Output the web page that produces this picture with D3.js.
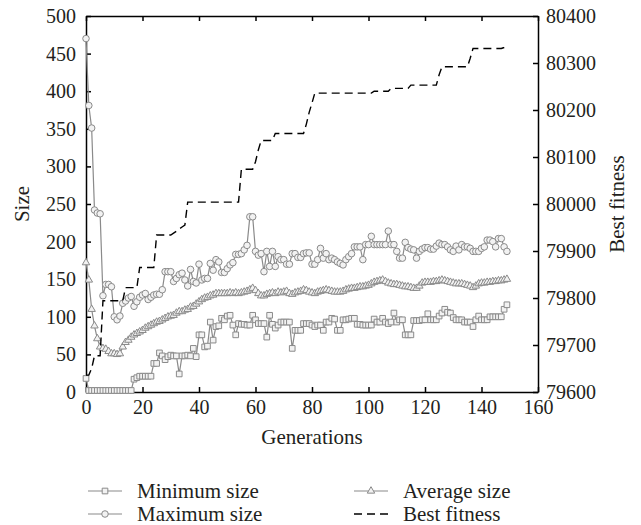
<!DOCTYPE html>
<html>
<head>
<meta charset="utf-8">
<script src="https://cdn.jsdelivr.net/npm/d3@7"></script>
<style>
	body { margin: 0; background: #fff; }
	svg { display: block; }
	.axis path, .axis line { stroke: #000; stroke-width: 1.5; }
</style>
</head>
<body>
<script>
// x ticks / axis ticks
const genTicks = [0, 20, 40, 60, 80, 100, 120, 140, 160];
const sizeTicks = [0, 50, 100, 150, 200, 250, 300, 350, 400, 450, 500];
const fitnessTicks = [79600, 79700, 79800, 79900, 80000, 80100, 80200, 80300, 80400];

// one value per generation, 0..149
const minSize = [
	18, 2, 2, 2, 2, 2, 2, 2, 2, 2,
	2, 2, 2, 2, 2, 2, 2, 17, 19, 21,
	21, 21, 21, 21, 38, 38, 52, 48, 43, 47,
	49, 48, 48, 24, 48, 48, 49, 48, 58, 47,
	76, 76, 60, 61, 93, 69, 87, 88, 98, 96,
	101, 102, 89, 76, 91, 90, 90, 89, 89, 102,
	96, 91, 91, 91, 73, 102, 90, 85, 89, 93,
	93, 93, 93, 58, 82, 82, 82, 91, 91, 91,
	89, 87, 89, 89, 82, 93, 93, 98, 97, 82,
	82, 96, 96, 97, 98, 98, 90, 90, 89, 89,
	89, 89, 97, 93, 93, 98, 93, 91, 93, 105,
	93, 96, 96, 76, 76, 76, 95, 95, 95, 96,
	96, 104, 96, 96, 96, 101, 105, 110, 106, 105,
	99, 96, 96, 96, 93, 93, 93, 87, 96, 101,
	96, 96, 96, 100, 100, 100, 100, 100, 110, 116
];
const maxSize = [
	470, 381, 351, 242, 238, 237, 128, 143, 143, 140,
	100, 96, 101, 118, 121, 125, 127, 114, 120, 126,
	129, 131, 123, 126, 129, 130, 130, 136, 160, 160,
	160, 147, 151, 156, 158, 149, 141, 163, 147, 145,
	170, 149, 151, 151, 171, 162, 176, 173, 159, 159,
	164, 169, 172, 183, 183, 184, 189, 195, 233, 233,
	187, 182, 184, 160, 187, 167, 187, 167, 180, 176,
	176, 170, 170, 184, 184, 179, 179, 184, 185, 185,
	170, 170, 176, 191, 178, 184, 176, 178, 176, 173,
	171, 169, 176, 180, 184, 193, 193, 193, 176, 196,
	196, 207, 196, 196, 196, 196, 196, 214, 196, 196,
	187, 178, 178, 199, 192, 190, 189, 178, 187, 190,
	192, 192, 190, 190, 194, 198, 196, 196, 193, 189,
	187, 194, 189, 196, 193, 193, 191, 187, 187, 187,
	191, 193, 202, 202, 200, 193, 204, 204, 193, 187
];
const avgSize = [
	172, 149, 110, 88, 71, 60, 58, 57, 54, 51,
	51, 50, 51, 60, 66, 69, 73, 76, 78, 80,
	82, 85, 87, 89, 91, 93, 94, 96, 98, 100,
	101, 102, 105, 107, 107, 109, 110, 113, 114, 117,
	120, 123, 125, 126, 128, 129, 131, 131, 131, 131,
	131, 132, 131, 132, 131, 132, 133, 134, 136, 138,
	135, 131, 128, 128, 130, 131, 132, 131, 133, 132,
	133, 134, 131, 130, 132, 133, 134, 136, 135, 133,
	132, 131, 133, 134, 135, 136, 135, 134, 133, 133,
	133, 134, 136, 137, 138, 138, 139, 140, 140, 141,
	142, 144, 146, 147, 148, 149, 147, 145, 144, 143,
	143, 142, 141, 140, 140, 139, 138, 138, 141, 145,
	146, 146, 146, 147, 147, 148, 149, 148, 147, 146,
	145, 144, 144, 144, 143, 142, 141, 139, 141, 144,
	145, 145, 146, 146, 147, 147, 148, 148, 149, 150
];
const bestFitness = [
	79636, 79636, 79650, 79677, 79677, 79677, 79794, 79794, 79794, 79794,
	79794, 79794, 79794, 79794, 79822, 79822, 79822, 79822, 79822, 79865,
	79865, 79865, 79865, 79865, 79865, 79934, 79934, 79934, 79934, 79934,
	79934, 79938, 79942, 79947, 79951, 79955, 80004, 80004, 80004, 80004,
	80004, 80004, 80004, 80004, 80004, 80004, 80004, 80004, 80004, 80004,
	80004, 80004, 80004, 80004, 80004, 80074, 80074, 80074, 80074, 80074,
	80090, 80115, 80135, 80135, 80135, 80135, 80135, 80150, 80150, 80150,
	80150, 80150, 80150, 80150, 80150, 80150, 80150, 80150, 80170, 80195,
	80215, 80236, 80236, 80236, 80236, 80236, 80236, 80236, 80236, 80236,
	80236, 80236, 80236, 80236, 80236, 80236, 80236, 80236, 80236, 80236,
	80236, 80236, 80240, 80240, 80240, 80240, 80240, 80240, 80246, 80246,
	80246, 80246, 80246, 80246, 80246, 80253, 80253, 80253, 80253, 80253,
	80253, 80253, 80253, 80253, 80253, 80275, 80292, 80292, 80292, 80292,
	80292, 80292, 80292, 80292, 80292, 80292, 80310, 80331, 80331, 80331,
	80331, 80331, 80331, 80331, 80331, 80331, 80331, 80331, 80333, 80336
];

const W = 641, H = 525;
const margin = { left: 86, right: 103, top: 16, bottom: 133 };
const grey = "#8a8a8a";
const fontFam = "'Liberation Serif', 'DejaVu Serif', serif";
const textCol = "#231f20";

const svg = d3.select("body").append("svg").attr("width", W).attr("height", H);

const x = d3.scaleLinear().domain([0, 160]).range([margin.left, W - margin.right]);
const y = d3.scaleLinear().domain([0, 500]).range([H - margin.bottom, margin.top]);
const yFit = d3.scaleLinear().domain([79600, 80400]).range([H - margin.bottom, margin.top]);

// axes, ticks pointing inward
const styleAxis = (g) => {
	g.attr("font-family", fontFam).attr("font-size", 20);
	g.selectAll("text").attr("fill", textCol);
};
svg.append("g").attr("class", "axis")
	.attr("transform", "translate(0," + (H - margin.bottom) + ")")
	.call(d3.axisBottom(x).tickValues(genTicks).tickSize(-5).tickSizeOuter(0).tickPadding(8))
	.call(styleAxis);
svg.append("g").attr("class", "axis")
	.attr("transform", "translate(0," + margin.top + ")")
	.call(d3.axisTop(x).tickValues(genTicks).tickSize(-5).tickSizeOuter(0).tickFormat(""));
svg.append("g").attr("class", "axis")
	.attr("transform", "translate(" + margin.left + ",0)")
	.call(d3.axisLeft(y).tickValues(sizeTicks).tickSize(-5).tickSizeOuter(0).tickPadding(10))
	.call(styleAxis);
svg.append("g").attr("class", "axis")
	.attr("transform", "translate(" + (W - margin.right) + ",0)")
	.call(d3.axisRight(yFit).tickValues(fitnessTicks).tickSize(-5).tickSizeOuter(0).tickPadding(8)
		.tickFormat(d3.format("d")))
	.call(styleAxis);

// axis titles
const midY = margin.top + (H - margin.bottom - margin.top) / 2;
const title = (txt) => svg.append("text").text(txt)
	.attr("text-anchor", "middle")
	.attr("font-family", fontFam).attr("font-size", 21)
	.attr("fill", textCol);
title("Generations").attr("x", (x(0) + x(160)) / 2).attr("y", 444);
title("Size").attr("transform", "translate(29," + midY + ") rotate(-90)");
title("Best fitness").attr("transform", "translate(624," + midY + ") rotate(-90)");

const symSquare = d3.symbol().type(d3.symbolSquare).size(32);
const symCircle = d3.symbol().type(d3.symbolCircle).size(34);
const symTriangle = d3.symbol().type(d3.symbolTriangle).size(24);

const drawSeries = (values, sym) => {
	const line = d3.line().x((d, i) => x(i)).y((d) => y(d));
	svg.append("path").datum(values)
		.attr("d", line).attr("fill", "none")
		.attr("stroke", grey).attr("stroke-width", 1.2);
	svg.append("g").selectAll("path").data(values).enter()
		.append("path")
		.attr("d", sym)
		.attr("transform", (d, i) => "translate(" + x(i) + "," + y(d) + ")")
		.attr("fill", "#f2f2f2")
		.attr("stroke", grey).attr("stroke-width", 1);
};

drawSeries(minSize, symSquare);
drawSeries(maxSize, symCircle);
drawSeries(avgSize, symTriangle);

const fitLine = d3.line().x((d, i) => x(i)).y((d) => yFit(d));
svg.append("path").datum(bestFitness)
	.attr("d", fitLine).attr("fill", "none")
	.attr("stroke", "#000").attr("stroke-width", 1.4)
	.attr("stroke-dasharray", "8,5");

// legend
const legendItems = [
	{ name: "Minimum size", sym: symSquare, dash: null, col: 0, row: 0 },
	{ name: "Maximum size", sym: symCircle, dash: null, col: 0, row: 1 },
	{ name: "Average size", sym: symTriangle, dash: null, col: 1, row: 0 },
	{ name: "Best fitness", sym: null, dash: "8,5", col: 1, row: 1 }
];
const legend = svg.append("g").selectAll("g").data(legendItems).enter()
	.append("g")
	.attr("transform", (d) => "translate(" + (88 + d.col * 266) + "," + (491 + d.row * 23) + ")");
legend.append("line")
	.attr("x1", 0).attr("x2", 34).attr("y1", 0).attr("y2", 0)
	.attr("stroke", (d) => d.dash ? "#000" : grey)
	.attr("stroke-width", (d) => d.dash ? 1.4 : 1.2)
	.attr("stroke-dasharray", (d) => d.dash);
legend.filter((d) => d.sym)
	.append("path")
	.attr("d", (d) => d.sym())
	.attr("transform", "translate(17,0)")
	.attr("fill", "#f2f2f2").attr("stroke", grey).attr("stroke-width", 1);
legend.append("text")
	.text((d) => d.name)
	.attr("x", 49).attr("y", 0).attr("dy", "0.35em")
	.attr("font-family", fontFam).attr("font-size", 21)
	.attr("fill", textCol);
</script>
</body>
</html>
